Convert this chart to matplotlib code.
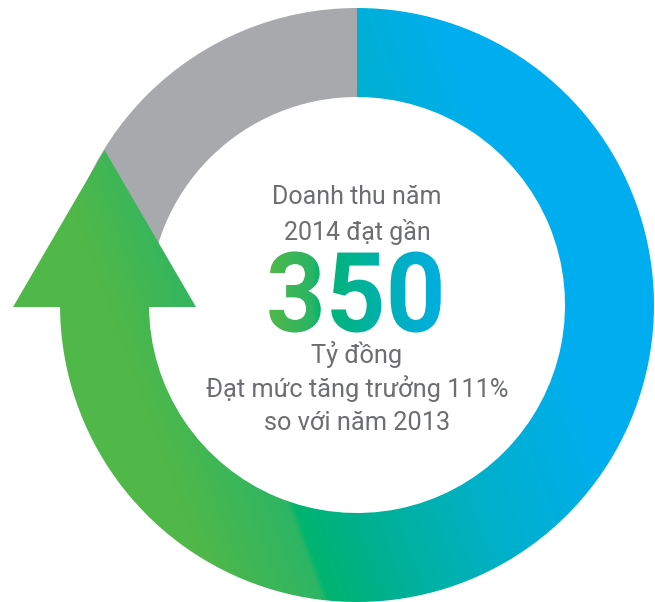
import numpy as np
import matplotlib
matplotlib.use("Agg")
from matplotlib import pyplot as plt
from matplotlib.patches import Wedge, Polygon, PathPatch
from matplotlib.colors import LinearSegmentedColormap
from matplotlib.textpath import TextPath
from matplotlib.font_manager import FontProperties
from matplotlib.transforms import Affine2D

# ty le vong tron (phan tang truong / phan con lai)
shares = [75, 25]
ring_colors = ["gradient", "#A7A9AC"]
lines_top = ["Doanh thu năm", "2014 đạt gần"]
big_value = "350"
lines_bottom = ["Tỷ đồng", "Đạt mức tăng trưởng 111%", "so với năm 2013"]

R = 297
W = 89
grey_txt = "#6D6E71"

fig = plt.figure(figsize=(6.55, 6.02), dpi=100)
ax = fig.add_axes([0, 0, 1, 1])
ax.set_xlim(-357, 298)
ax.set_ylim(-297, 305)
ax.set_aspect("equal")
ax.axis("off")

# gradient xanh la -> xanh ngoc -> xanh duong
cmap = LinearSegmentedColormap.from_list("ring", [
    (0.0, "#50B848"), (0.17, "#50B848"), (0.312, "#2DB565"),
    (0.32, "#00B46E"), (0.41, "#00B092"), (0.57, "#00B0C8"),
    (0.75, "#00AEEF"), (1.0, "#00AEEF")])
xs = np.linspace(-357, 298, 655)
ys = np.linspace(-297, 305, 602)
X, Y = np.meshgrid(xs, ys)
phi = np.radians(20)
T = (X * np.cos(phi) + Y * np.sin(phi)) / R
N = np.clip((T + 1.2) / 2.4, 0, 1)

# cac phan cua vong tron, bat dau tu 12 gio theo chieu kim dong ho
start = 90
for val, col in zip(shares, ring_colors):
    span = val / sum(shares) * 360
    w = Wedge((0, 0), R, start - span, start, width=W)
    if col == "gradient":
        w.set_facecolor("none")
        w.set_edgecolor("none")
        ax.add_patch(w)
        im = ax.imshow(N, cmap=cmap, vmin=0, vmax=1, origin="lower",
                       extent=(-357, 298, -297, 305), interpolation="bilinear",
                       zorder=1)
        im.set_clip_path(w)
        end_angle = start - span
    else:
        w.set_facecolor(col)
        w.set_edgecolor("none")
        w.set_zorder(1)
        ax.add_patch(w)
    start = start - span

# dau mui ten o cuoi phan tang truong
rc = R - W / 2
a = np.radians(end_angle)
cx, cy = rc * np.cos(a), rc * np.sin(a)
tri = Polygon([[cx - 91.5, cy - 2], [cx + 91.5, cy - 2], [cx, cy + 155]],
              closed=True, facecolor="none", edgecolor="none")
ax.add_patch(tri)
im2 = ax.imshow(N, cmap=cmap, vmin=0, vmax=1, origin="lower",
                extent=(-357, 298, -297, 305), interpolation="bilinear",
                zorder=3)
im2.set_clip_path(tri)

# chu o giua
fam = ["Roboto", "DejaVu Sans"]
ax.text(0, 108, lines_top[0], ha="center", va="center", fontsize=18,
        color=grey_txt, family=fam)
ax.text(0, 73, lines_top[1], ha="center", va="center", fontsize=18,
        color=grey_txt, family=fam)
for i, s in enumerate(lines_bottom):
    ax.text(0, -50 - i * 34, s, ha="center", va="center", fontsize=18.3,
            color=grey_txt, family=fam)

# so 350 voi mau gradient
fp = FontProperties(family="Roboto", weight="bold")
tp = TextPath((0, 0), big_value, size=111, prop=fp)
ext = tp.get_extents()
tp = (Affine2D().translate(-(ext.x0 + ext.x1) / 2, -(ext.y0 + ext.y1) / 2)
      .scale(0.94, 1.0).translate(-2, 13)).transform_path(tp)
ext = tp.get_extents()
tcmap = LinearSegmentedColormap.from_list("txt", [
    (0.0, "#50B848"), (0.25, "#2AB466"), (0.3, "#00B46E"),
    (0.55, "#00B29A"), (0.8, "#00AFC8"), (1.0, "#00AEE0")])
grad = np.linspace(0, 1, 256).reshape(1, -1)
tpatch = PathPatch(tp, facecolor="none", edgecolor="none")
ax.add_patch(tpatch)
im3 = ax.imshow(grad, cmap=tcmap, aspect="auto", origin="lower",
                extent=(ext.x0, ext.x1, ext.y0, ext.y1), interpolation="bilinear",
                zorder=4)
im3.set_clip_path(tpatch)

ax.set_xlim(-357, 298)
ax.set_ylim(-297, 305)
fig.savefig("out.png", dpi=100)
